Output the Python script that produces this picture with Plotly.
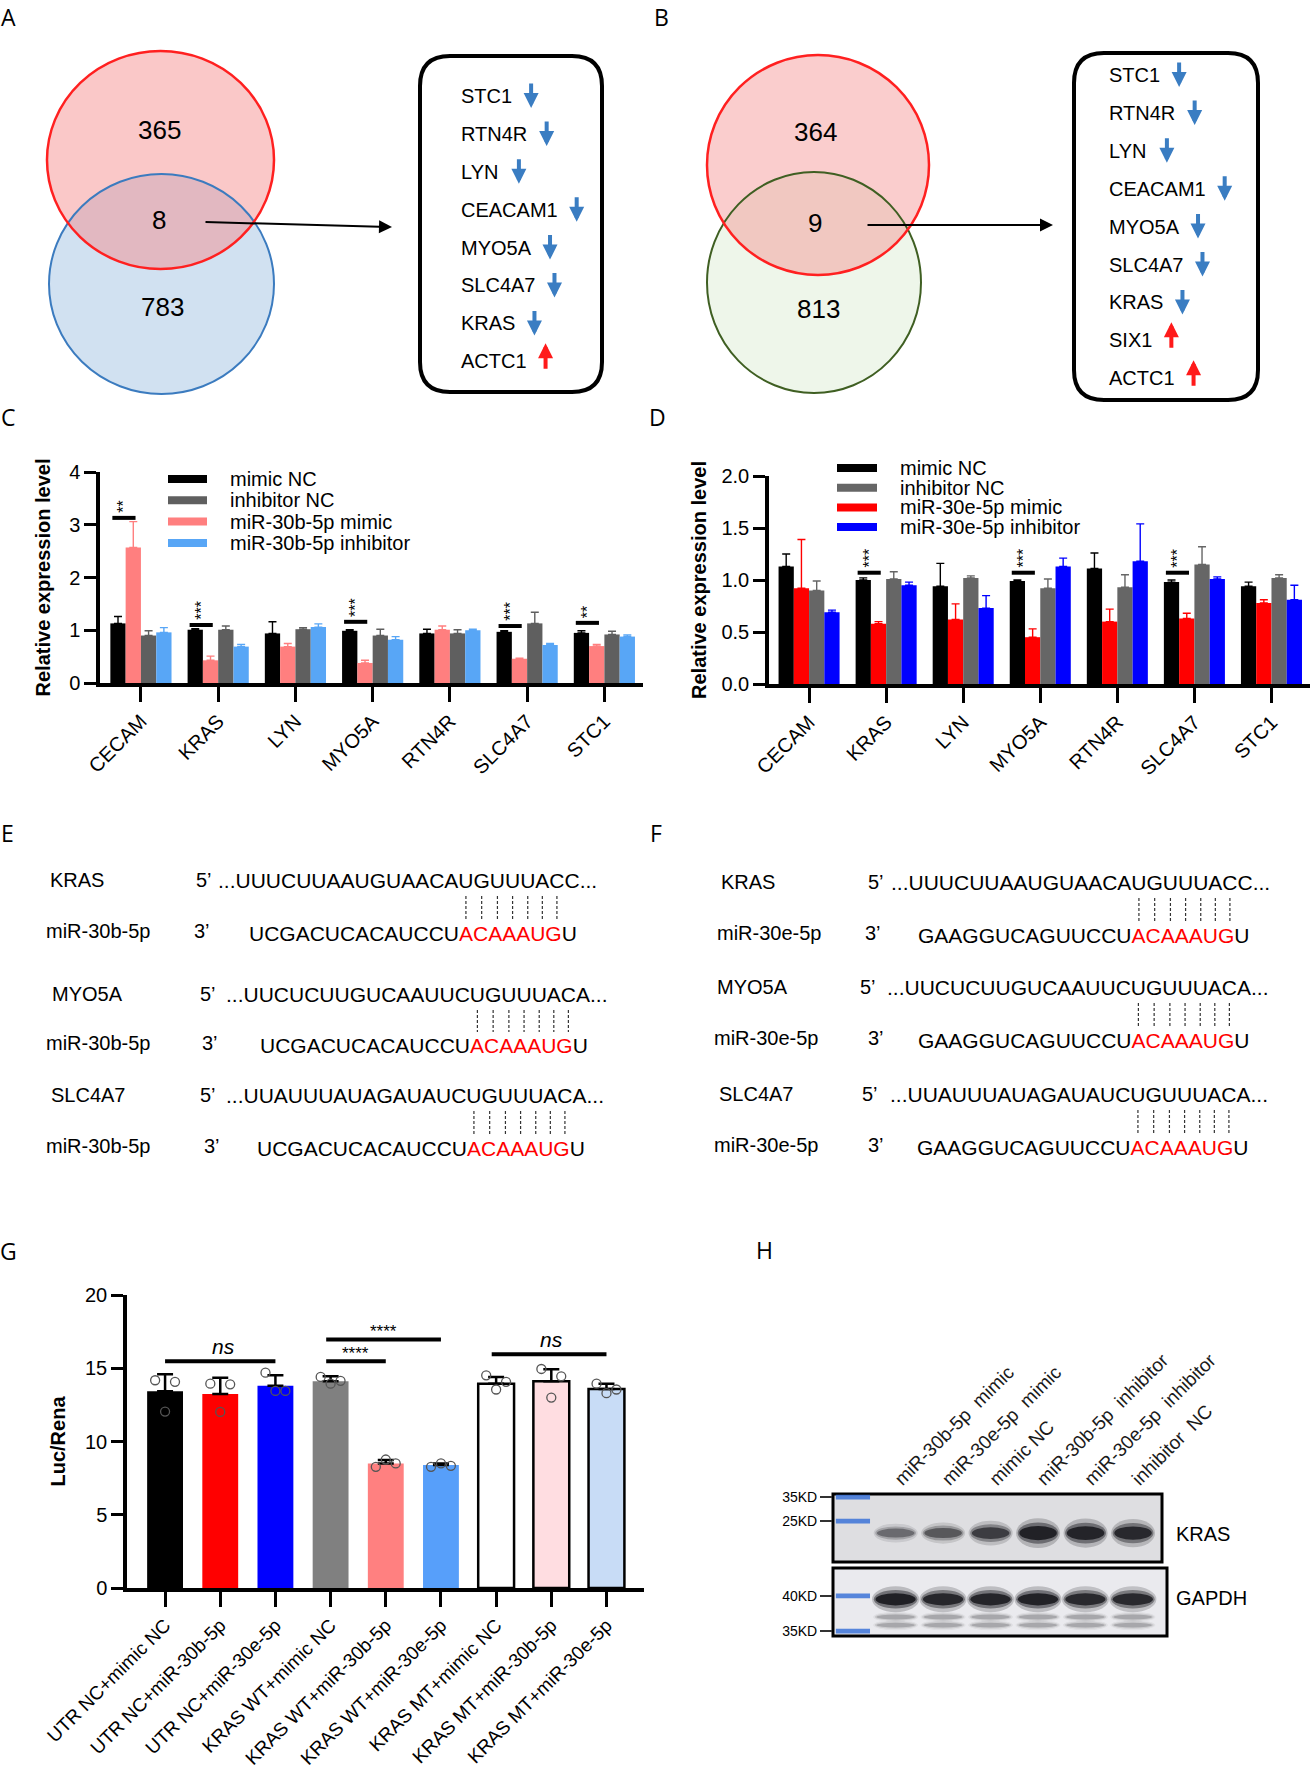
import plotly.graph_objects as go

W, H = 1312, 1774


def px(x):
    return x / W


def py(y):
    return 1 - y / H


SANS = "Liberation Sans, Arial, Helvetica, sans-serif"
HEAD = "Open Sans, Liberation Sans, sans-serif"

# ======================= DATA =======================
# Panels A / B : Venn counts and shared genes
venn_a_counts = [365, 8, 783]
venn_b_counts = [364, 9, 813]
genes_a = ["STC1", "RTN4R", "LYN", "CEACAM1", "MYO5A", "SLC4A7", "KRAS", "ACTC1"]
dirs_a = ["down", "down", "down", "down", "down", "down", "down", "up"]
genes_b = ["STC1", "RTN4R", "LYN", "CEACAM1", "MYO5A", "SLC4A7", "KRAS", "SIX1", "ACTC1"]
dirs_b = ["down", "down", "down", "down", "down", "down", "down", "up", "up"]

# Panels C / D : relative expression (mean, SD)
genes_cd = ["CECAM", "KRAS", "LYN", "MYO5A", "RTN4R", "SLC4A7", "STC1"]
c_mimic_nc = [1.13, 1.01, 0.94, 0.99, 0.94, 0.97, 0.95]
c_mimic_nc_sd = [0.13, 0.02, 0.22, 0.02, 0.08, 0.02, 0.04]
c_mimic = [2.57, 0.43, 0.69, 0.38, 1.01, 0.46, 0.70]
c_mimic_sd = [0.49, 0.08, 0.06, 0.05, 0.07, 0.01, 0.03]
c_inh_nc = [0.90, 1.01, 1.02, 0.90, 0.94, 1.13, 0.92]
c_inh_nc_sd = [0.09, 0.07, 0.03, 0.12, 0.07, 0.21, 0.06]
c_inh = [0.96, 0.69, 1.06, 0.82, 1.00, 0.72, 0.88]
c_inh_sd = [0.09, 0.04, 0.06, 0.06, 0.02, 0.03, 0.03]
c_sig_genes = ["CECAM", "KRAS", "MYO5A", "SLC4A7", "STC1"]
c_sig_marks = ["**", "***", "***", "***", "**"]
c_sig_level = [3.13, 1.10, 1.16, 1.08, 1.14]

d_mimic_nc = [1.13, 1.00, 0.94, 0.99, 1.11, 0.98, 0.94]
d_mimic_nc_sd = [0.12, 0.02, 0.22, 0.01, 0.15, 0.02, 0.04]
d_mimic = [0.92, 0.58, 0.62, 0.45, 0.60, 0.63, 0.78]
d_mimic_sd = [0.47, 0.02, 0.15, 0.08, 0.12, 0.05, 0.03]
d_inh_nc = [0.90, 1.01, 1.02, 0.92, 0.93, 1.15, 1.02]
d_inh_nc_sd = [0.09, 0.07, 0.02, 0.09, 0.12, 0.17, 0.03]
d_inh = [0.69, 0.95, 0.73, 1.13, 1.18, 1.01, 0.81]
d_inh_sd = [0.02, 0.03, 0.12, 0.08, 0.36, 0.02, 0.14]
d_sig_genes = ["KRAS", "MYO5A", "SLC4A7"]
d_sig_marks = ["***", "***", "***"]
d_sig_level = [1.07, 1.07, 1.07]

# Panels E / F : binding sites
targets = ["KRAS", "MYO5A", "SLC4A7"]
target_utr = ["...UUUCUUAAUGUAACAUGUUUACC...",
              "...UUCUCUUGUCAAUUCUGUUUACA...",
              "...UUAUUUAUAGAUAUCUGUUUACA..."]
mir_30b = ["UCGACUCACAUCCU", "ACAAAUG", "U"]
mir_30e = ["GAAGGUCAGUUCCU", "ACAAAUG", "U"]

# Panel G : luciferase reporter (Luc/Rena)
g_groups = ["UTR NC+mimic NC", "UTR NC+miR-30b-5p", "UTR NC+miR-30e-5p",
            "KRAS WT+mimic NC", "KRAS WT+miR-30b-5p", "KRAS WT+miR-30e-5p",
            "KRAS MT+mimic NC", "KRAS MT+miR-30b-5p", "KRAS MT+miR-30e-5p"]
g_mean = [13.43, 13.25, 13.80, 14.11, 8.50, 8.39, 13.95, 14.11, 13.59]
g_sd = [1.16, 1.11, 0.72, 0.34, 0.23, 0.11, 0.46, 0.82, 0.36]
g_rep1 = [14.18, 13.95, 14.70, 14.41, 8.27, 8.27, 14.52, 14.95, 13.95]
g_rep2 = [12.04, 12.02, 13.45, 13.95, 8.77, 8.50, 13.55, 13.00, 13.30]
g_rep3 = [14.07, 13.90, 13.45, 14.14, 8.50, 8.34, 14.07, 14.45, 13.55]
g_cmp_from = [0, 3, 3, 6]
g_cmp_to = [2, 4, 5, 8]
g_cmp_label = ["ns", "****", "****", "ns"]
g_cmp_level = [15.47, 15.47, 16.97, 15.95]

# Panel H : western blot
h_lanes = ["miR-30b-5p\u00a0\u00a0mimic", "miR-30e-5p\u00a0\u00a0mimic", "mimic NC",
           "miR-30b-5p\u00a0\u00a0inhibitor", "miR-30e-5p\u00a0\u00a0inhibitor", "inhibitor\u00a0\u00a0NC"]
kras_intensity = [0.45, 0.55, 0.72, 0.95, 0.92, 0.88]
gapdh_intensity = [0.97, 0.90, 0.92, 0.95, 0.88, 0.88]
kras_markers = ["35KD", "25KD"]
kras_marker_pos = [0.045, 0.40]
kras_band_pos = 0.575
gapdh_markers = ["40KD", "35KD"]
gapdh_marker_pos = [0.41, 0.93]
gapdh_band_pos = 0.46
gapdh_minor_pos = [0.72, 0.84]

# ======================= HELPERS =======================
ARIAL = {'A': .667, 'B': .667, 'C': .722, 'D': .722, 'E': .667, 'F': .611, 'G': .778,
         'H': .722, 'I': .278, 'K': .667, 'L': .556, 'M': .833, 'N': .722, 'O': .778,
         'P': .667, 'R': .722, 'S': .667, 'T': .611, 'U': .722, 'X': .667, 'Y': .667,
         '.': .278, ' ': .278, '-': .333}


def tw(s, f):
    return sum(ARIAL.get(ch, .556) for ch in s) * f


shapes = []
annotations = []


def text(x, y, s, size=20, color="black", xanchor="center", yanchor="middle",
         family=SANS, angle=0):
    annotations.append(dict(x=px(x), y=py(y), xref="paper", yref="paper", text=s,
                            showarrow=False, xanchor=xanchor, yanchor=yanchor,
                            textangle=angle, borderpad=0, borderwidth=0,
                            font=dict(family=family, size=size, color=color)))


def arrow(x, y_head, y_tail, color, width=4, size=0.75, x_tail=None):
    annotations.append(dict(x=px(x), y=py(y_head), xref="paper", yref="paper", text="",
                            showarrow=True, ax=(0 if x_tail is None else x_tail - x),
                            ay=y_tail - y_head, axref="pixel", ayref="pixel",
                            arrowhead=2, arrowsize=size, arrowwidth=width,
                            arrowcolor=color, standoff=0, startstandoff=0))


def ellipse(x0, y0, x1, y1, fill, line_color=None, lw=0):
    shapes.append(dict(type="circle", xref="paper", yref="paper",
                       x0=px(x0), x1=px(x1), y0=py(y1), y1=py(y0),
                       fillcolor=fill,
                       line=dict(color=line_color or "rgba(0,0,0,0)", width=lw)))


def rrect(x0, y0, x1, y1, r, lw=4):
    p = (f"M{px(x0 + r)},{py(y0)} L{px(x1 - r)},{py(y0)} Q{px(x1)},{py(y0)} {px(x1)},{py(y0 + r)} "
         f"L{px(x1)},{py(y1 - r)} Q{px(x1)},{py(y1)} {px(x1 - r)},{py(y1)} "
         f"L{px(x0 + r)},{py(y1)} Q{px(x0)},{py(y1)} {px(x0)},{py(y1 - r)} "
         f"L{px(x0)},{py(y0 + r)} Q{px(x0)},{py(y0)} {px(x0 + r)},{py(y0)} Z")
    shapes.append(dict(type="path", path=p, xref="paper", yref="paper",
                       line=dict(color="black", width=lw)))


# ======================= PANEL LETTERS =======================
for lab, (x, y) in zip("ABCDEFGH", [(8, 17), (662, 17), (8, 417), (657, 417),
                                      (7, 833), (656, 833), (8, 1251), (764, 1250)]):
    text(x, y, lab, size=23, family=HEAD)

# ======================= PANELS A / B (Venn) =======================
BLUE_ARROW = "#3a7dc2"
RED_ARROW = "#ff1a1a"
GENE_F = 20

# A
ellipse(49, 174, 274, 394, "#d1e1f1")
ellipse(47, 51, 274, 269, "rgba(244,140,140,0.48)")
ellipse(49, 174, 274, 394, "rgba(0,0,0,0)", "#3b7bbf", 2)
ellipse(47, 51, 274, 269, "rgba(0,0,0,0)", "#ff2020", 2.5)
for v, (x, y) in zip(venn_a_counts, [(159, 130), (159, 220), (162, 307)]):
    text(x, y, str(v), size=26)
arrow(392, 227, 222, "black", width=2, size=1.3, x_tail=204)
rrect(420, 56, 602, 392, 30)
for i, (g, d) in enumerate(zip(genes_a, dirs_a)):
    ry = 96 + 37.9 * i
    text(461, ry, g, size=GENE_F, xanchor="left")
    ax = 461 + tw(g, GENE_F) + 19
    if d == "down":
        arrow(ax, ry + 12, ry - 14, BLUE_ARROW)
    else:
        arrow(ax, ry - 18, ry + 9, RED_ARROW)

# B
ellipse(707, 172, 921, 393, "#eef6ea")
ellipse(707, 55, 929, 275, "rgba(244,145,145,0.45)")
ellipse(707, 172, 921, 393, "rgba(0,0,0,0)", "#3f5f22", 2)
ellipse(707, 55, 929, 275, "rgba(0,0,0,0)", "#ff2020", 2.5)
for v, (x, y) in zip(venn_b_counts, [(815, 132), (815, 223), (818, 309)]):
    text(x, y, str(v), size=26)
arrow(1053, 225, 225, "black", width=2, size=1.3, x_tail=866)
rrect(1074, 53, 1258, 400, 30)
for i, (g, d) in enumerate(zip(genes_b, dirs_b)):
    ry = 75 + 37.9 * i
    text(1109, ry, g, size=GENE_F, xanchor="left")
    ax = 1109 + tw(g, GENE_F) + 19
    if d == "down":
        arrow(ax, ry + 12, ry - 14, BLUE_ARROW)
    else:
        arrow(ax, ry - 18, ry + 9, RED_ARROW)

# ======================= PANELS C / D (grouped bars) =======================
fig = go.Figure()
xs = list(range(len(genes_cd)))
BW = 0.198

series_c = [("mimic NC", c_mimic_nc, c_mimic_nc_sd, "#000000"),
            ("miR-30b-5p mimic", c_mimic, c_mimic_sd, "#ff7f7f"),
            ("inhibitor NC", c_inh_nc, c_inh_nc_sd, "#5f5f5f"),
            ("miR-30b-5p inhibitor", c_inh, c_inh_sd, "#58a6f6")]
series_d = [("mimic NC", d_mimic_nc, d_mimic_nc_sd, "#000000"),
            ("miR-30e-5p mimic", d_mimic, d_mimic_sd, "#ff0000"),
            ("inhibitor NC", d_inh_nc, d_inh_nc_sd, "#666666"),
            ("miR-30e-5p inhibitor", d_inh, d_inh_sd, "#0000ff")]

for series, xa, ya in [(series_c, "x", "y"), (series_d, "x2", "y2")]:
    for k, (name, vals, sd, col) in enumerate(series):
        fig.add_trace(go.Bar(
            x=xs, y=vals, name=name, width=BW, offset=-2 * BW + k * BW,
            marker=dict(color=col, line=dict(width=0)),
            error_y=dict(type="data", array=sd, arrayminus=[0] * len(sd), symmetric=False,
                         color=col, thickness=1.4, width=4),
            xaxis=xa, yaxis=ya, showlegend=False, hoverinfo="x+y"))

# manual legends
LEG_F = 20
legend_c = [("mimic NC", "#000000"), ("inhibitor NC", "#5f5f5f"),
            ("miR-30b-5p mimic", "#ff7f7f"), ("miR-30b-5p inhibitor", "#58a6f6")]
for i, (name, col) in enumerate(legend_c):
    ry = 479 + 21.3 * i
    shapes.append(dict(type="rect", xref="paper", yref="paper", x0=px(168), x1=px(207),
                       y0=py(ry + 4), y1=py(ry - 4), fillcolor=col, line=dict(width=0)))
    text(230, ry, name, size=LEG_F, xanchor="left")
legend_d = [("mimic NC", "#000000"), ("inhibitor NC", "#666666"),
            ("miR-30e-5p mimic", "#ff0000"), ("miR-30e-5p inhibitor", "#0000ff")]
for i, (name, col) in enumerate(legend_d):
    ry = 468 + 19.7 * i
    shapes.append(dict(type="rect", xref="paper", yref="paper", x0=px(837), x1=px(877),
                       y0=py(ry + 4), y1=py(ry - 4), fillcolor=col, line=dict(width=0)))
    text(900, ry, name, size=LEG_F, xanchor="left")

# significance marks
for genes_s, marks, levels, xa, ya in [(c_sig_genes, c_sig_marks, c_sig_level, "x", "y"),
                                       (d_sig_genes, d_sig_marks, d_sig_level, "x2", "y2")]:
    for g, m, lv in zip(genes_s, marks, levels):
        gi = genes_cd.index(g)
        shapes.append(dict(type="line", xref=xa, yref=ya, x0=gi - 0.37, x1=gi - 0.07,
                           y0=lv, y1=lv, line=dict(color="black", width=4)))
        annotations.append(dict(x=gi - 0.22, y=lv, xref=xa, yref=ya, text=m,
                                showarrow=False, textangle=-90, yanchor="bottom",
                                yshift=3, font=dict(family=SANS, size=16, color="black")))

# ======================= PANELS E / F (sequences) =======================
COMP = {"A": "U", "C": "G", "G": "C", "U": "A"}
SEQ_F = 21
LAB_F = 20


def seq_block(mir_name, mir, rows):
    site = "".join(COMP[c] for c in mir[1])
    for target, utr, r in zip(targets, target_utr, rows):
        (lx_t, lx_m, p5, p3, sx, y_t, y_m) = r
        text(lx_t, y_t, target, size=LAB_F, xanchor="left")
        text(lx_m, y_m, mir_name, size=LAB_F, xanchor="left")
        text(p5, y_t, "5\u2019", size=LAB_F, xanchor="left")
        text(p3, y_m, "3\u2019", size=LAB_F, xanchor="left")
        text(sx, y_t, utr, size=SEQ_F, xanchor="left")
        idx = utr.find(site)
        dash_x = [sx + tw(utr[:idx + k], SEQ_F) + ARIAL[utr[idx + k]] * SEQ_F / 2
                  for k in range(len(site))]
        for dx in dash_x:
            shapes.append(dict(type="line", xref="paper", yref="paper", x0=px(dx), x1=px(dx),
                               y0=py(y_t + 16), y1=py(y_m - 11),
                               line=dict(color="#333333", width=1.2, dash="3px,2px")))
        mx = dash_x[0] - tw(mir[0], SEQ_F) - ARIAL["A"] * SEQ_F / 2
        text(mx, y_m + 2, f"{mir[0]}<span style='color:#ff0000'>{mir[1]}</span>{mir[2]}",
             size=SEQ_F, xanchor="left")


seq_block("miR-30b-5p", mir_30b, [
    (50, 46, 196, 194, 218, 880, 931),
    (52, 46, 200, 202, 226, 994, 1043),
    (51, 46, 200, 204, 226, 1095, 1146)])
seq_block("miR-30e-5p", mir_30e, [
    (721, 717, 868, 865, 891, 882, 933),
    (717, 714, 860, 868, 887, 987, 1038),
    (719, 714, 862, 868, 890, 1094, 1145)])

# ======================= PANEL G (luciferase) =======================
g_colors = ["#000000", "#ff0000", "#0000ff", "#808080", "#ff8080", "#579ffa",
            "#ffffff", "#ffdde1", "#c8dcf6"]
g_line_w = [0, 0, 0, 0, 0, 0, 2.5, 2.5, 2.5]
gx = list(range(len(g_groups)))
fig.add_trace(go.Bar(
    x=gx, y=g_mean, width=0.65,
    marker=dict(color=g_colors, line=dict(color="black", width=g_line_w)),
    error_y=dict(type="data", array=g_sd, arrayminus=[0] * len(g_sd), symmetric=False,
                 color="black", thickness=2.5, width=8),
    xaxis="x3", yaxis="y3", showlegend=False))
jitter = [-0.18, 0.0, 0.18]
pt_x, pt_y = [], []
for reps, j in zip([g_rep1, g_rep2, g_rep3], jitter):
    for i, v in enumerate(reps):
        pt_x.append(i + j)
        pt_y.append(v)
fig.add_trace(go.Scatter(
    x=pt_x, y=pt_y, mode="markers", xaxis="x3", yaxis="y3", showlegend=False,
    marker=dict(symbol="circle-open", size=9, color="#555555", line=dict(width=1.3))))
for a, b, lab, lv in zip(g_cmp_from, g_cmp_to, g_cmp_label, g_cmp_level):
    x0 = a if a == 0 else a - 0.08
    shapes.append(dict(type="line", xref="x3", yref="y3", x0=x0, x1=b, y0=lv, y1=lv,
                       line=dict(color="black", width=4)))
    if lab == "ns":
        annotations.append(dict(x=(x0 + b) / 2 + 0.05, y=lv, xref="x3", yref="y3",
                                text="<i>ns</i>", showarrow=False, yanchor="bottom",
                                yshift=1, font=dict(family=SANS, size=21, color="black")))
    else:
        annotations.append(dict(x=(x0 + b) / 2, y=lv, xref="x3", yref="y3",
                                text=lab, showarrow=False, yanchor="bottom",
                                yshift=-4, font=dict(family=SANS, size=17, color="black")))

# ======================= PANEL H (western blot) =======================
fig.add_trace(go.Scatter(x=[None], y=[None], xaxis="x4", yaxis="y4", showlegend=False))
fig.add_trace(go.Scatter(x=[None], y=[None], xaxis="x5", yaxis="y5", showlegend=False))
for xa, ya, bg in [("x4", "y4", "#dedee1"), ("x5", "y5", "#eaeaee")]:
    shapes.append(dict(type="rect", xref=f"{xa} domain", yref=f"{ya} domain",
                       x0=0, x1=1, y0=0, y1=1, fillcolor=bg,
                       line=dict(color="black", width=3), layer="below"))
LADDER = "rgba(60,115,215,0.85)"
for xa, ya, poss in [("x4", "y4", kras_marker_pos), ("x5", "y5", gapdh_marker_pos)]:
    for p in poss:
        shapes.append(dict(type="rect", xref=xa, yref=ya, x0=-0.26, x1=0.46,
                           y0=p - 0.035, y1=p + 0.035, fillcolor=LADDER, line=dict(width=0)))


def band(xa, ya, lane, pos, k, half_h, half_w=0.43):
    for sw, sh, a in [(1.08, 1.9, 0.22), (1.0, 1.35, 0.45), (0.92, 0.9, 0.85)]:
        shapes.append(dict(type="circle", xref=xa, yref=ya,
                           x0=lane - half_w * sw, x1=lane + half_w * sw,
                           y0=pos - half_h * sh, y1=pos + half_h * sh,
                           fillcolor=f"rgba(15,15,20,{a * k:.3f})", line=dict(width=0)))


for i, k in enumerate(kras_intensity):
    band("x4", "y4", i + 1, kras_band_pos, k, 0.035 + 0.085 * k)
for i, k in enumerate(gapdh_intensity):
    band("x5", "y5", i + 1, gapdh_band_pos, k, 0.1, 0.46)
    for p in gapdh_minor_pos:
        band("x5", "y5", i + 1, p, 0.22, 0.04, 0.44)
text(1176, 1534, "KRAS", size=20, xanchor="left")
text(1176, 1598, "GAPDH", size=20, xanchor="left")

# ======================= LAYOUT =======================
tickfont = dict(family=SANS, size=20, color="black")
xbase = dict(showline=True, linewidth=3.5, linecolor="black", ticks="outside", ticklen=15,
             tickwidth=3, tickcolor="black", showgrid=False, zeroline=False,
             tickangle=-45, tickfont=tickfont, fixedrange=True)
ybase = dict(showline=True, linewidth=3.5, linecolor="black", ticks="outside", ticklen=12,
             tickwidth=3, tickcolor="black", showgrid=False, zeroline=False,
             tickfont=tickfont, fixedrange=True)
ytitle_font = dict(family=SANS, size=20, color="black")

layout = dict(
    width=W, height=H, margin=dict(l=0, r=0, t=0, b=0),
    paper_bgcolor="white", plot_bgcolor="rgba(0,0,0,0)", template="none",
    barmode="overlay", showlegend=False,
    xaxis=dict(xbase, domain=[px(100), px(643)], range=[-0.53, 6.5], anchor="y",
               tickvals=xs, ticktext=genes_cd),
    yaxis=dict(ybase, domain=[py(683), py(472)], range=[0, 4], anchor="x",
               tickvals=[0, 1, 2, 3, 4],
               title=dict(text="<b>Relative expression level</b>", font=ytitle_font, standoff=14)),
    xaxis2=dict(xbase, domain=[px(769), px(1310)], range=[-0.52, 6.5], anchor="y2",
                tickvals=xs, ticktext=genes_cd),
    yaxis2=dict(ybase, domain=[py(684), py(476)], range=[0, 2], anchor="x2",
                tickvals=[0, 0.5, 1, 1.5, 2], tickformat=".1f",
                title=dict(text="<b>Relative expression level</b>", font=ytitle_font, standoff=10)),
    xaxis3=dict(xbase, domain=[px(127), px(644)], range=[-0.69, 8.68], anchor="y3",
                tickvals=gx, ticktext=g_groups,
                tickfont=dict(family=SANS, size=19, color="black")),
    yaxis3=dict(ybase, domain=[py(1588), py(1295)], range=[0, 20], anchor="x3",
                tickvals=[0, 5, 10, 15, 20],
                title=dict(text="<b>Luc/Rena</b>", font=ytitle_font, standoff=15)),
    xaxis4=dict(domain=[px(833), px(1162)], range=[-0.32, 6.61], anchor="y4", side="top",
                tickvals=[1, 2, 3, 4, 5, 6], ticktext=h_lanes, tickangle=-45,
                ticks="", tickfont=dict(family=SANS, size=19, color="#1a1a1a"),
                showline=False, showgrid=False, zeroline=False, fixedrange=True),
    yaxis4=dict(domain=[py(1562), py(1494)], range=[1, 0], anchor="x4",
                tickvals=kras_marker_pos, ticktext=kras_markers, ticks="outside",
                ticklen=12, tickwidth=1.5, tickcolor="#333333",
                tickfont=dict(family=SANS, size=14, color="black"),
                showline=False, showgrid=False, zeroline=False, fixedrange=True),
    xaxis5=dict(domain=[px(833), px(1167)], range=[-0.32, 6.72], anchor="y5",
                showticklabels=False, ticks="", showline=False, showgrid=False,
                zeroline=False, fixedrange=True),
    yaxis5=dict(domain=[py(1636), py(1568)], range=[1, 0], anchor="x5",
                tickvals=gapdh_marker_pos, ticktext=gapdh_markers, ticks="outside",
                ticklen=12, tickwidth=1.5, tickcolor="#333333",
                tickfont=dict(family=SANS, size=14, color="black"),
                showline=False, showgrid=False, zeroline=False, fixedrange=True),
    shapes=shapes, annotations=annotations,
)
fig.update_layout(**layout)
fig.write_html("out.html", config={"displayModeBar": False},
               post_script="document.body.style.margin='0px';document.body.style.padding='0px';")
